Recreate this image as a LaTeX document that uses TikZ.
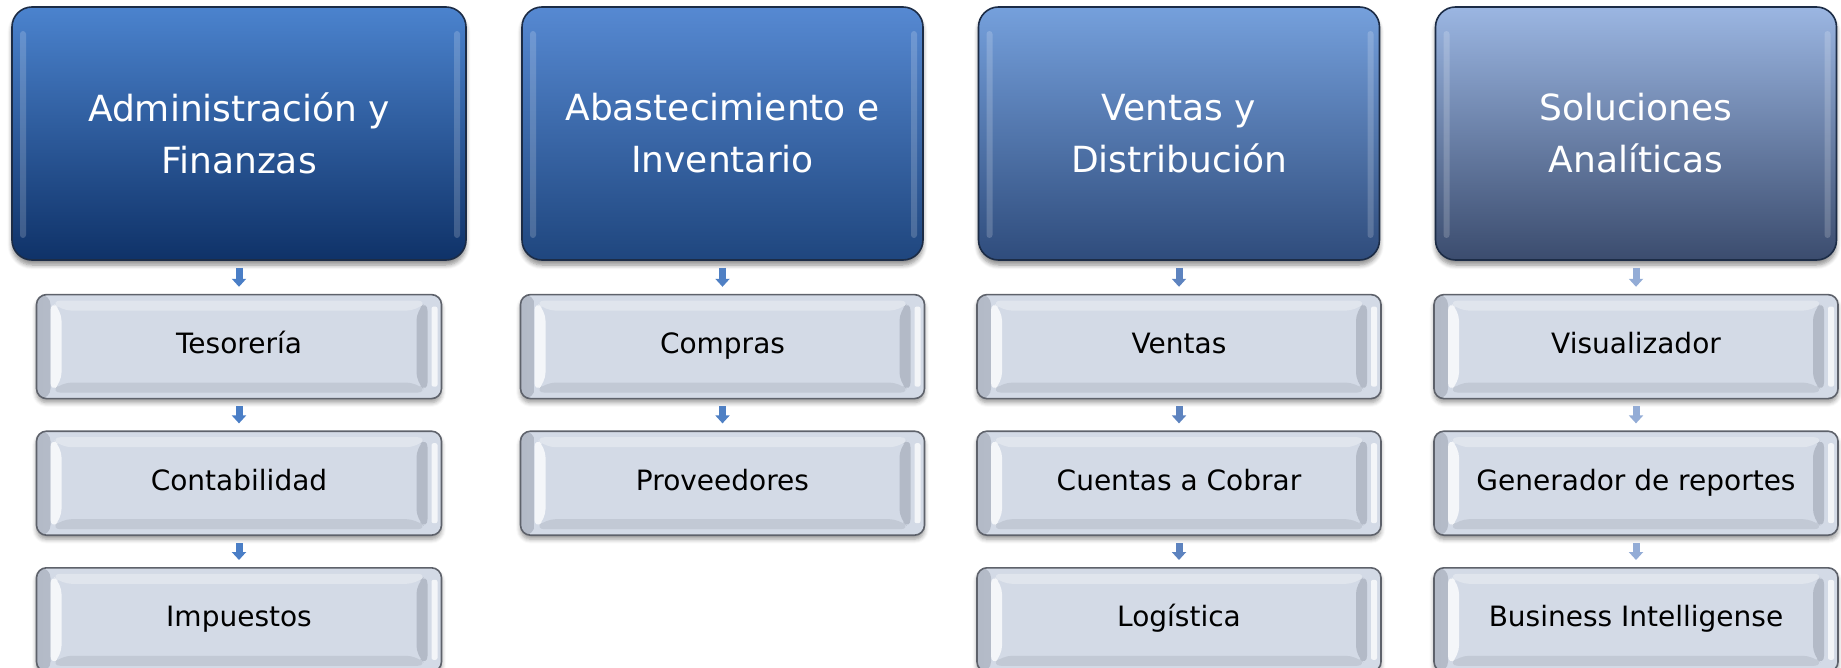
\documentclass[tikz,border=0pt]{standalone}
\usepackage{fontspec}
\setmainfont{DejaVu Sans}
\usetikzlibrary{positioning,arrows.meta,shadows.blur}
\definecolor{subfill}{HTML}{D3DAE6}
\definecolor{subline}{HTML}{5E626B}
\definecolor{headline}{HTML}{1C2C46}
\definecolor{bevdark}{HTML}{B3BAC7}
\definecolor{bevlow}{HTML}{C2C9D5}
\definecolor{topA}{HTML}{4B83CE}
\definecolor{botA}{HTML}{0F3268}
\definecolor{topB}{HTML}{5689D2}
\definecolor{botB}{HTML}{1F467E}
\definecolor{topC}{HTML}{75A0DC}
\definecolor{botC}{HTML}{2F4C7C}
\definecolor{topD}{HTML}{9BB6E2}
\definecolor{botD}{HTML}{3B4C6E}
\definecolor{arrA}{HTML}{4A7EC6}
\definecolor{arrB}{HTML}{4F80C4}
\definecolor{arrC}{HTML}{5D83BF}
\definecolor{arrD}{HTML}{93ACD6}
\begin{document}
\begin{tikzpicture}[x=0.5pt,y=0.5pt,
    head/.style 2 args={rounded corners=10pt, minimum width=200.5pt, minimum height=126.5pt,
      top color=#1, bottom color=#2, draw=headline, line width=0.8pt, align=center,
      text=white, font=\fontsize{18}{26}\selectfont,
      blur shadow={shadow xshift=0pt, shadow yshift=-2.5pt, shadow blur steps=6, shadow opacity=45},
      path picture={
        \fill[white, opacity=0.18, rounded corners=1.5pt]
          ([shift={(4pt,-12pt)}]path picture bounding box.north west) rectangle
          ([shift={(7pt,11pt)}]path picture bounding box.south west);
        \fill[white, opacity=0.18, rounded corners=1.5pt]
          ([shift={(-3pt,-12pt)}]path picture bounding box.north east) rectangle
          ([shift={(-6pt,11pt)}]path picture bounding box.south east);
      }},
    sub/.style={rounded corners=5pt, minimum width=202pt, minimum height=52pt,
      text height=10pt, text depth=3pt,
      fill=subfill, draw=subline, line width=0.8pt, font=\fontsize{14}{16}\selectfont,
      blur shadow={shadow xshift=0pt, shadow yshift=-2pt, shadow blur steps=5, shadow opacity=40},
      path picture={
        % rims
        \fill[left color=bevdark, right color=subfill]
          (path picture bounding box.north west) rectangle
          ([shift={(7pt,0pt)}]path picture bounding box.south west);
        \fill[white, opacity=0.75, rounded corners=1pt]
          ([shift={(-2pt,-6pt)}]path picture bounding box.north east) rectangle
          ([shift={(-5pt,6pt)}]path picture bounding box.south east);
        % left bevel
        \fill[white!75!subfill]
          ([shift={(7pt,-3pt)}]path picture bounding box.north west) --
          ([shift={(7pt,3pt)}]path picture bounding box.south west) --
          ([shift={(12.5pt,8pt)}]path picture bounding box.south west) --
          ([shift={(12.5pt,-8pt)}]path picture bounding box.north west) -- cycle;
        % top bevel
        \fill[white!30!subfill]
          ([shift={(7pt,-3pt)}]path picture bounding box.north west) --
          ([shift={(-7pt,-3pt)}]path picture bounding box.north east) --
          ([shift={(-12.5pt,-8pt)}]path picture bounding box.north east) --
          ([shift={(12.5pt,-8pt)}]path picture bounding box.north west) -- cycle;
        % right bevel
        \fill[bevdark]
          ([shift={(-7pt,-3pt)}]path picture bounding box.north east) --
          ([shift={(-7pt,3pt)}]path picture bounding box.south east) --
          ([shift={(-12.5pt,8pt)}]path picture bounding box.south east) --
          ([shift={(-12.5pt,-8pt)}]path picture bounding box.north east) -- cycle;
        % bottom bevel
        \fill[bevlow]
          ([shift={(7pt,3pt)}]path picture bounding box.south west) --
          ([shift={(-7pt,3pt)}]path picture bounding box.south east) --
          ([shift={(-12.5pt,8pt)}]path picture bounding box.south east) --
          ([shift={(12.5pt,8pt)}]path picture bounding box.south west) -- cycle;
      }},
    down/.style={draw=#1, line width=3.5pt, -{Triangle[width=7pt,length=4pt]},
      shorten <=3.5pt, shorten >=3.5pt}]
    \useasboundingbox (0,0) rectangle (1841,-668);
    % heads
    \node[head={topA}{botA}, minimum width=227pt] (adm) at (239,-133.5) {Administración y\\Finanzas};
    \node[head={topB}{botB}] (aba) at (722.5,-133.5) {Abastecimiento e\\Inventario};
    \node[head={topC}{botC}] (ven) at (1179,-133.5) {Ventas y\\Distribución};
    \node[head={topD}{botD}] (sol) at (1636,-133.5) {Soluciones\\Analíticas};
    % administracion
    \node[sub, minimum width=202.5pt] (tes) [below=16.5pt of adm] {Tesorería};
    \node[sub, minimum width=202.5pt] (con) [below=15.5pt of tes] {Contabilidad};
    \node[sub, minimum width=202.5pt] (imp) [below=15.5pt of con] {Impuestos};
    % abastecimiento
    \node[sub] (com) [below=16.5pt of aba] {Compras};
    \node[sub] (pro) [below=15.5pt of com] {Proveedores};
    % ventas
    \node[sub] (vta) [below=16.5pt of ven] {Ventas};
    \node[sub] (cxc) [below=15.5pt of vta] {Cuentas a Cobrar};
    \node[sub] (log) [below=15.5pt of cxc] {Logística};
    % soluciones
    \node[sub] (vis) [below=16.5pt of sol] {Visualizador};
    \node[sub] (gen) [below=15.5pt of vis] {Generador de reportes};
    \node[sub] (bui) [below=15.5pt of gen] {Business Intelligense};
    % arrows
    \draw[down=arrA] (adm.south) -- (tes.north);
    \draw[down=arrA] (tes.south) -- (con.north);
    \draw[down=arrA] (con.south) -- (imp.north);
    \draw[down=arrB] (aba.south) -- (com.north);
    \draw[down=arrB] (com.south) -- (pro.north);
    \draw[down=arrC] (ven.south) -- (vta.north);
    \draw[down=arrC] (vta.south) -- (cxc.north);
    \draw[down=arrC] (cxc.south) -- (log.north);
    \draw[down=arrD] (sol.south) -- (vis.north);
    \draw[down=arrD] (vis.south) -- (gen.north);
    \draw[down=arrD] (gen.south) -- (bui.north);
\end{tikzpicture}
\end{document}
